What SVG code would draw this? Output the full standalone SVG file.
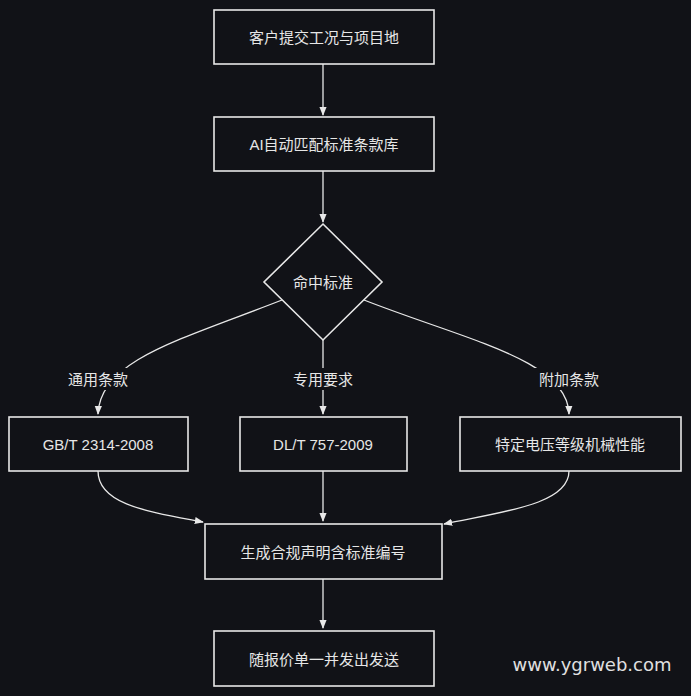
<svg xmlns="http://www.w3.org/2000/svg" width="691" height="696" viewBox="0 0 691 696">
<defs>
<style>
.n{fill:#111217;stroke:#e8e8e8;stroke-width:1.6}
.t{fill:#e6e6e6;font-family:"Liberation Sans","Noto Sans CJK SC",sans-serif;font-size:15px;text-anchor:middle;dominant-baseline:central}
.e{fill:none;stroke:#e8e8e8;stroke-width:1.3}
.lb{fill:#111217}
</style>
<marker id="a" viewBox="0 0 10 10" refX="9" refY="5" markerWidth="7" markerHeight="7" orient="auto"><path d="M0,1 L10,5 L0,9 Z" fill="#e8e8e8"/></marker>
</defs>
<rect width="691" height="696" fill="#111217"/>
<g id="edges">
<path class="e" d="M323,64 V115" marker-end="url(#a)"/>
<path class="e" d="M323,171 V222" marker-end="url(#a)"/>
<path class="e" d="M282,300 C180,340 100,360 98,414" marker-end="url(#a)"/>
<path class="e" d="M323,340 V414" marker-end="url(#a)"/>
<path class="e" d="M364,300 C466,340 568,360 569,414" marker-end="url(#a)"/>
<path class="e" d="M98,471 C98,505 150,512 203,522" marker-end="url(#a)"/>
<path class="e" d="M323,471 V521" marker-end="url(#a)"/>
<path class="e" d="M569,471 C569,505 500,512 444,524" marker-end="url(#a)"/>
<path class="e" d="M323,579 V628" marker-end="url(#a)"/>
<rect class="lb" x="62" y="368" width="72" height="22"/>
<rect class="lb" x="287" y="368" width="72" height="22"/>
<rect class="lb" x="533" y="368" width="72" height="22"/>
<text class="t" x="98" y="379">通用条款</text>
<text class="t" x="323" y="379">专用要求</text>
<text class="t" x="569" y="379">附加条款</text>
</g>
<g id="n1"><rect class="n" x="214" y="10" width="220" height="54"/><text class="t" x="324" y="37">客户提交工况与项目地</text></g>
<g id="n2"><rect class="n" x="214" y="117" width="220" height="54"/><text class="t" x="324" y="144">AI自动匹配标准条款库</text></g>
<g id="n3"><path class="n" d="M323,224 L382,282 L323,340 L264,282 Z"/><text class="t" x="323" y="282">命中标准</text></g>
<g id="n4"><rect class="n" x="9" y="417" width="179" height="54"/><text class="t" x="98" y="444">GB/T 2314-2008</text></g>
<g id="n5"><rect class="n" x="240" y="417" width="167" height="54"/><text class="t" x="323" y="444">DL/T 757-2009</text></g>
<g id="n6"><rect class="n" x="460" y="417" width="221" height="54"/><text class="t" x="570" y="444">特定电压等级机械性能</text></g>
<g id="n7"><rect class="n" x="205" y="524" width="237" height="55"/><text class="t" x="323" y="552">生成合规声明含标准编号</text></g>
<g id="n8"><rect class="n" x="214" y="631" width="220" height="55"/><text class="t" x="324" y="659">随报价单一并发出发送</text></g>
<text x="592" y="664" style="fill:#e0e0e0;font-family:'DejaVu Sans',sans-serif;font-size:18px;text-anchor:middle;dominant-baseline:central">www.ygrweb.com</text>
</svg>
